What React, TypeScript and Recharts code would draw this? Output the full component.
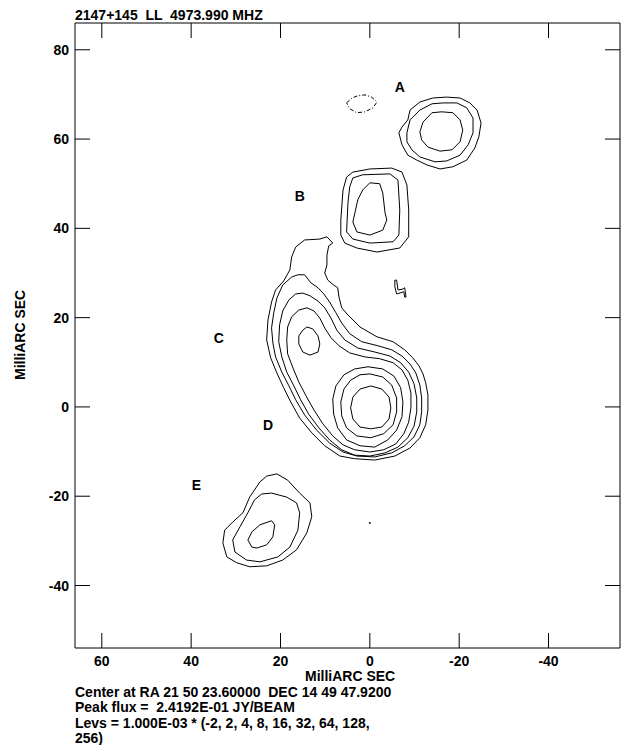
import React from "react";
import { ScatterChart, Scatter, XAxis, YAxis } from "recharts";

// contour paths in milliarcsec, [x, y]; x grows to the left (RA)
const compA2 = [[-6.5, 61.4], [-7.2, 62.7], [-8.5, 64.3], [-9.0, 66.5], [-11.2, 68.3], [-14.1, 69.2], [-17.2, 69.4], [-20.2, 69.2], [-22.4, 68.1], [-24.0, 66.5], [-24.9, 63.6], [-24.4, 60.5], [-23.5, 58.0], [-21.7, 55.3], [-18.6, 53.8], [-15.7, 53.3], [-12.8, 54.2], [-10.5, 55.3], [-8.5, 56.4], [-7.2, 58.7]];
const compA4 = [[-8.3, 61.4], [-9.0, 64.3], [-11.2, 66.5], [-13.9, 67.9], [-16.4, 68.1], [-19.5, 68.1], [-21.7, 67.0], [-23.1, 64.7], [-23.1, 61.4], [-22.0, 58.7], [-20.2, 56.4], [-17.2, 55.1], [-14.6, 54.9], [-11.2, 56.0], [-9.4, 57.6], [-8.3, 59.4]];
const compA8 = [[-11.2, 61.6], [-11.9, 63.8], [-13.9, 65.9], [-16.1, 66.1], [-18.6, 65.9], [-20.2, 64.3], [-20.8, 62.0], [-20.2, 59.4], [-18.4, 57.6], [-15.7, 57.3], [-13.0, 58.2], [-11.6, 59.8]];
const negA = [[5.2, 68.1], [4.0, 69.2], [2.7, 69.7], [1.1, 69.9], [-0.4, 69.4], [-1.6, 68.3], [-0.7, 67.0], [1.1, 66.1], [2.9, 65.9], [4.5, 66.8]];

const compB2 = [[6.0, 48.6], [5.2, 51.5], [3.8, 52.6], [0, 53.3], [-4.9, 53.5], [-7.2, 52.6], [-8.3, 49.7], [-8.7, 44.1], [-8.7, 38.1], [-6.7, 35.6], [-1.6, 34.7], [2.9, 35.6], [5.6, 36.7], [6.5, 38.5], [6.5, 41.9]];
const compB4 = [[4.5, 49.3], [3.8, 51.3], [1.6, 52.0], [-4.5, 52.2], [-6.3, 50.8], [-6.7, 44.1], [-6.5, 38.5], [-5.2, 37.0], [0, 36.7], [3.8, 37.6], [5.2, 39.2], [4.9, 45.7]];
const compB8 = [[0, 50.2], [-2.2, 50.0], [-2.9, 47.9], [-3.4, 43.5], [-3.8, 41.9], [-2.9, 39.6], [0, 38.5], [2.9, 39.2], [3.8, 41.4], [2.7, 46.4], [1.6, 48.6]];

const coreC2 = [[14.6, 37.4], [11.2, 37.6], [9.6, 38.1], [8.3, 36.7], [9.2, 36.1], [9.6, 34.0], [9.6, 31.8], [10.1, 30.0], [9.4, 28.4], [8.1, 27.3], [7.2, 26.7], [6.9, 24.6], [6.3, 22.2], [4.9, 20.6], [2.2, 17.9], [-1.6, 15.7], [-5.2, 14.6], [-7.8, 12.8], [-9.6, 11.0], [-11.0, 9.2], [-11.9, 7.4], [-12.5, 5.4], [-13.0, 2.7], [-13.0, -0.7], [-12.5, -4.0], [-11.2, -6.9], [-9.0, -9.2], [-5.6, -11.0], [-1.1, -11.9], [3.4, -11.6], [6.7, -11.0], [10.1, -8.7], [13.0, -5.8], [15.7, -2.5], [17.7, 1.1], [19.3, 4.3], [20.8, 7.6], [22.2, 11.0], [23.1, 15.0], [22.8, 19.5], [22.0, 23.5], [21.1, 26.2], [19.3, 28.2], [17.9, 30.7], [17.5, 33.6], [16.6, 35.8]];
const coreC4 = [[14.6, 29.6], [13.2, 27.8], [11.6, 26.7], [10.3, 25.3], [9.0, 23.5], [7.6, 21.1], [6.3, 18.8], [4.5, 16.4], [1.8, 14.6], [-1.8, 13.7], [-4.9, 12.8], [-7.2, 11.4], [-9.0, 9.6], [-10.3, 7.6], [-11.2, 4.9], [-11.6, 2.0], [-11.6, -1.1], [-11.2, -4.0], [-9.9, -6.7], [-7.8, -8.7], [-4.9, -10.3], [-1.1, -11.2], [2.9, -11.0], [6.0, -10.1], [9.0, -8.1], [11.9, -5.2], [14.6, -1.8], [16.6, 1.6], [18.1, 4.7], [19.7, 7.8], [21.1, 11.2], [21.7, 14.3], [22.0, 17.7], [21.5, 21.1], [20.8, 24.4], [19.5, 27.3], [17.5, 29.1], [16.1, 29.6]];
const coreC8 = [[15.0, 25.5], [13.4, 24.9], [11.6, 23.7], [10.1, 22.2], [8.7, 19.9], [7.4, 17.2], [5.6, 15.0], [2.7, 13.2], [-1.1, 12.3], [-4.5, 11.4], [-6.9, 9.9], [-8.7, 7.8], [-9.9, 5.2], [-10.5, 2.0], [-10.5, -1.1], [-9.9, -4.3], [-8.5, -6.9], [-6.3, -9.0], [-3.4, -10.3], [0, -11.0], [3.4, -10.8], [6.3, -9.6], [9.0, -7.4], [11.4, -4.7], [13.7, -1.6], [15.5, 1.6], [17.0, 4.7], [18.6, 7.8], [19.7, 11.2], [20.4, 14.6], [20.2, 18.4], [19.5, 21.5], [18.1, 24.0], [16.6, 25.3]];
const coreC16 = [[14.1, 22.2], [12.5, 21.5], [11.2, 19.9], [10.1, 17.7], [8.7, 15.5], [6.9, 13.7], [4.5, 12.1], [1.1, 11.2], [-2.2, 10.8], [-5.2, 9.9], [-7.2, 8.3], [-8.5, 6.0], [-9.2, 3.1], [-9.2, -0.2], [-8.7, -3.4], [-7.6, -6.0], [-5.8, -8.3], [-3.1, -9.6], [0, -10.1], [3.4, -9.6], [6.0, -8.5], [8.3, -6.5], [10.5, -3.8], [12.5, -0.7], [14.3, 2.5], [15.9, 5.6], [17.2, 8.7], [18.4, 11.9], [18.6, 15.0], [18.4, 17.9], [17.5, 20.2], [15.9, 21.7]];
const compC32 = [[14.1, 17.9], [12.8, 17.5], [11.6, 15.9], [11.2, 14.1], [11.6, 12.3], [13.4, 11.6], [15.0, 12.3], [15.9, 14.1], [15.9, 15.9], [15.0, 17.2]];
const compD32 = [[0.4, 9.0], [-2.9, 8.5], [-5.4, 6.9], [-6.9, 4.3], [-7.4, 1.1], [-7.2, -2.2], [-6.0, -5.2], [-4.0, -7.4], [-1.1, -9.0], [2.2, -8.7], [5.2, -7.4], [7.2, -4.7], [8.1, -1.6], [8.3, 1.8], [7.6, 4.7], [5.8, 7.2], [3.4, 8.5]];
const compD64 = [[0, 7.4], [-2.9, 6.7], [-4.9, 4.9], [-6.0, 2.0], [-6.0, -1.1], [-5.2, -4.0], [-3.1, -6.0], [-0.2, -6.9], [2.9, -6.5], [5.2, -4.7], [6.3, -2.0], [6.5, 1.1], [5.8, 4.0], [4.3, 6.0], [2.2, 7.2]];
const compD128 = [[-0.2, 4.7], [-2.7, 4.0], [-4.3, 2.2], [-4.7, -0.2], [-4.3, -2.7], [-2.7, -4.5], [-0.2, -4.9], [2.2, -4.5], [3.8, -2.7], [4.3, -0.2], [3.8, 2.2], [2.2, 4.0]];

const compE2 = [[20.8, -15.0], [18.4, -16.4], [15.7, -19.3], [13.4, -21.5], [13.0, -24.6], [14.1, -28.2], [16.4, -32.0], [19.5, -34.3], [23.1, -35.6], [26.9, -35.8], [29.8, -34.9], [32.0, -33.6], [32.9, -30.5], [32.5, -27.6], [30.7, -25.8], [28.4, -23.7], [26.9, -20.2], [24.6, -16.8], [23.1, -15.5]];
const compE4 = [[22.0, -19.3], [18.6, -20.2], [16.4, -21.5], [15.7, -23.7], [16.1, -27.6], [17.9, -31.4], [20.6, -33.6], [24.6, -34.7], [27.6, -34.3], [30.2, -32.5], [30.7, -29.8], [29.1, -26.9], [27.3, -23.7], [25.8, -20.8], [24.2, -19.5]];
const compE8 = [[22.0, -25.5], [21.3, -26.4], [21.7, -29.1], [23.1, -30.9], [25.3, -31.6], [26.4, -31.4], [27.3, -29.8], [26.4, -28.0], [24.6, -26.4]];

const blobL = [[-5.6, 28.4], [-6.0, 28.4], [-6.3, 26.2], [-7.4, 26.4], [-7.8, 26.7], [-8.1, 24.6], [-7.8, 24.6], [-7.6, 25.8], [-6.0, 25.3], [-5.6, 26.9]];
const blobDot = [[0.1, -25.9], [-0.1, -25.9], [-0.1, -26.1], [0.1, -26.1]];

const positive = [compA2, compA4, compA8, compB2, compB4, compB8, coreC2, coreC4, coreC8, coreC16, compC32, compD32, compD64, compD128, compE2, compE4, compE8, blobL, blobDot];
const negative = [negA];

const compNames = ["A", "B", "C", "D", "E"];
const compX = [-6.7, 15.7, 33.8, 22.8, 38.8];
const compY = [71.7, 47.3, 15.5, -4.0, -17.5];

const xTicks = [60, 40, 20, 0, -20, -40];
const yTicks = [80, 60, 40, 20, 0, -20, -40];

const title = "2147+145  LL  4973.990 MHZ";
const footer = [
  "Center at RA 21 50 23.60000  DEC 14 49 47.9200",
  "Peak flux =  2.4192E-01 JY/BEAM",
  "Levs = 1.000E-03 * (-2, 2, 4, 8, 16, 32, 64, 128,",
  "256)",
];

const FONT = "'Liberation Sans', Arial, Helvetica, sans-serif";
const txt: React.CSSProperties = { fontFamily: FONT, fontWeight: 700, fontSize: 14 };

const closed = (pts: number[][]) => [...pts, pts[0]].map(([x, y]) => ({ x, y }));
const noDot = () => <g />;

const BottomTick = ({ x, y, payload }: any) => (
  <g>
    <line x1={x} y1={y} x2={x} y2={y - 15} stroke="#000" />
    <text x={x} y={y + 18} textAnchor="middle" fill="#000" style={txt}>{payload.value}</text>
  </g>
);
const TopTick = ({ x, y }: any) => <line x1={x} y1={y} x2={x} y2={y + 15} stroke="#000" />;
const LeftTick = ({ x, y, payload }: any) => (
  <g>
    <line x1={x} y1={y} x2={x + 15} y2={y} stroke="#000" />
    <text x={x - 6} y={y + 5} textAnchor="end" fill="#000" style={txt}>{payload.value}</text>
  </g>
);
const RightTick = ({ x, y }: any) => <line x1={x} y1={y} x2={x - 15} y2={y} stroke="#000" />;

const Letter = ({ cx, cy, payload }: any) => (
  <text x={cx} y={cy + 5} textAnchor="middle" fill="#000" style={txt}>{payload.name}</text>
);

export default function App() {
  const letters = compNames.map((name, i) => ({ name, x: compX[i], y: compY[i] }));
  const axisCommon = { type: "number" as const, allowDataOverflow: true, tickSize: 0, tickMargin: 0, tickLine: false, interval: 0 as const, axisLine: { stroke: "#000" } };

  return (
    <div style={{ position: "absolute", left: 0, top: 0, width: 632, height: 745, background: "#fff" }}>
      <ScatterChart width={632} height={745} margin={{ top: 0, right: 0, bottom: 0, left: 0 }}>
        <XAxis {...axisCommon} xAxisId="b" dataKey="x" domain={[-56, 66]} reversed orientation="bottom" height={97} ticks={xTicks} tick={<BottomTick />} />
        <XAxis {...axisCommon} xAxisId="t" dataKey="x" domain={[-56, 66]} reversed orientation="top" height={23} ticks={xTicks} tick={<TopTick />} />
        <YAxis {...axisCommon} yAxisId="l" dataKey="y" domain={[-54, 86]} orientation="left" width={75} ticks={yTicks} tick={<LeftTick />} />
        <YAxis {...axisCommon} yAxisId="r" dataKey="y" domain={[-54, 86]} orientation="right" width={12} ticks={yTicks} tick={<RightTick />} />
        {positive.map((pts, i) => (
          <Scatter key={"p" + i} xAxisId="b" yAxisId="l" data={closed(pts)} line={{ stroke: "#000", strokeWidth: 1 }} lineType="joint" shape={noDot} isAnimationActive={false} />
        ))}
        {negative.map((pts, i) => (
          <Scatter key={"n" + i} xAxisId="b" yAxisId="l" data={closed(pts)} line={{ stroke: "#000", strokeWidth: 1, strokeDasharray: "4 2 1 2" }} lineType="joint" shape={noDot} isAnimationActive={false} />
        ))}
        <Scatter xAxisId="b" yAxisId="l" data={letters} shape={<Letter />} isAnimationActive={false} />
      </ScatterChart>
      <div style={{ ...txt, position: "absolute", left: 75, top: 7, lineHeight: "16px", whiteSpace: "pre" }}>{title}</div>
      <div style={{ ...txt, position: "absolute", left: 305, top: 668, lineHeight: "16px", whiteSpace: "pre" }}>MilliARC SEC</div>
      {footer.map((line, i) => (
        <div key={i} style={{ ...txt, position: "absolute", left: 75, top: 684 + i * 15.4, lineHeight: "16px", whiteSpace: "pre" }}>{line}</div>
      ))}
      <div style={{ ...txt, position: "absolute", left: 20 - 45, top: 335 - 8, width: 90, lineHeight: "16px", textAlign: "center", whiteSpace: "pre", transform: "rotate(-90deg)" }}>MilliARC SEC</div>
    </div>
  );
}
